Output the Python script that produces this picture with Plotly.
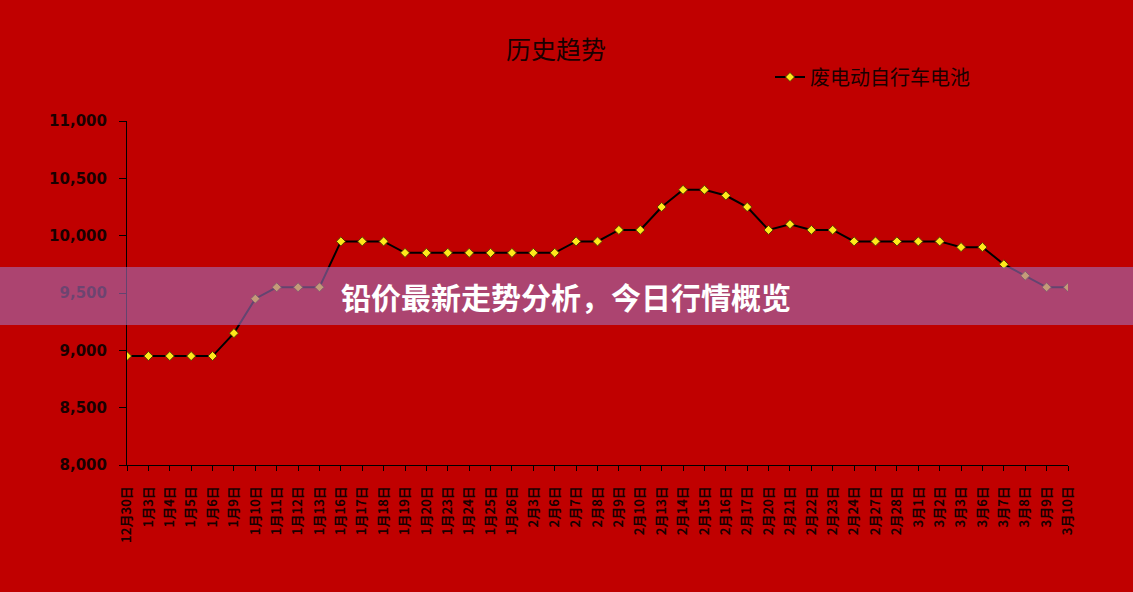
import plotly.graph_objects as go

categories = ["12月30日", "1月3日", "1月4日", "1月5日", "1月6日", "1月9日", "1月10日", "1月11日",
              "1月12日", "1月13日", "1月16日", "1月17日", "1月18日", "1月19日", "1月20日", "1月23日",
              "1月24日", "1月25日", "1月26日", "2月3日", "2月6日", "2月7日", "2月8日", "2月9日",
              "2月10日", "2月13日", "2月14日", "2月15日", "2月16日", "2月17日", "2月20日", "2月21日",
              "2月22日", "2月23日", "2月24日", "2月27日", "2月28日", "3月1日", "3月2日", "3月3日",
              "3月6日", "3月7日", "3月8日", "3月9日", "3月10日"]
values = [8950, 8950, 8950, 8950, 8950, 9150, 9450, 9550, 9550, 9550,
          9950, 9950, 9950, 9850, 9850, 9850, 9850, 9850, 9850, 9850,
          9850, 9950, 9950, 10050, 10050, 10250, 10400, 10400, 10350, 10250,
          10050, 10100, 10050, 10050, 9950, 9950, 9950, 9950, 9950, 9900,
          9900, 9750, 9650, 9550, 9550]
series_name = "废电动自行车电池"
y_ticks = [8000, 8500, 9000, 9500, 10000, 10500, 11000]
y_ticktext = ["8,000", "8,500", "9,000", "9,500", "10,000", "10,500", "11,000"]
chart_title = "历史趋势"
banner_text = "铅价最新走势分析，今日行情概览"

BG = "#C00000"
W, H = 1133, 592
L, R, T, B = 127, 65, 121, 127
plot_w = W - L - R
plot_h = H - T - B


def px_x(px):
    return (px - L) / plot_w


def px_y(py):
    return (H - B - py) / plot_h


fig = go.Figure()
fig.add_trace(go.Scatter(
    x=list(range(len(categories))), y=values, mode="lines+markers", name=series_name,
    line=dict(color="#000000", width=2),
    marker=dict(symbol="diamond", size=7, color="#FFE81A", line=dict(color="#5a3a00", width=1)),
))

fig.update_layout(
    width=W, height=H,
    paper_bgcolor=BG, plot_bgcolor=BG,
    margin=dict(l=L, r=R, t=T, b=B),
    showlegend=True,
    legend=dict(x=px_x(770), y=px_y(77), xref="paper", yref="paper", xanchor="left", yanchor="middle",
                orientation="h", bgcolor="rgba(0,0,0,0)",
                font=dict(family="Noto Sans CJK SC", size=20, color="#1a0000"),
                itemwidth=30),
    xaxis=dict(
        range=[0, len(categories) - 1],
        tickmode="array", tickvals=list(range(len(categories))), ticktext=categories,
        tickangle=-90, tickfont=dict(family="Noto Sans CJK SC", size=13, color="#1a0000", weight="bold"),
        ticklabelstandoff=10,
        showgrid=False, zeroline=False,
        showline=True, linecolor="#000000", linewidth=1,
        ticks="outside", ticklen=5, tickcolor="#000000",
    ),
    yaxis=dict(
        range=[8000, 11000],
        tickmode="array", tickvals=y_ticks, ticktext=y_ticktext,
        tickfont=dict(family="DejaVu Sans", size=15, color="#1a0000", weight="bold"),
        ticklabelstandoff=9,
        showgrid=False, zeroline=False,
        showline=True, linecolor="#000000", linewidth=1,
        ticks="outside", ticklen=7, tickcolor="#000000",
    ),
    annotations=[
        dict(text=chart_title, x=px_x(556), y=px_y(48), xref="paper", yref="paper",
             xanchor="center", yanchor="middle", showarrow=False,
             font=dict(family="Noto Sans CJK SC", size=25, color="#1a0000")),
        dict(text="<b>" + banner_text + "</b>", x=px_x(566), y=px_y(296), xref="paper", yref="paper",
             xanchor="center", yanchor="middle", showarrow=False,
             font=dict(family="Noto Sans CJK SC", size=30, color="#FFFFFF")),
    ],
    shapes=[
        dict(type="rect", xref="paper", yref="paper", x0=px_x(0), x1=px_x(W),
             y0=px_y(325), y1=px_y(267),
             fillcolor="rgba(160,109,179,0.625)", line=dict(width=0), layer="above"),
    ],
)

fig.write_html("out.html", config={"displayModeBar": False},
               post_script="document.body.style.margin='0';document.body.style.overflow='hidden';")
